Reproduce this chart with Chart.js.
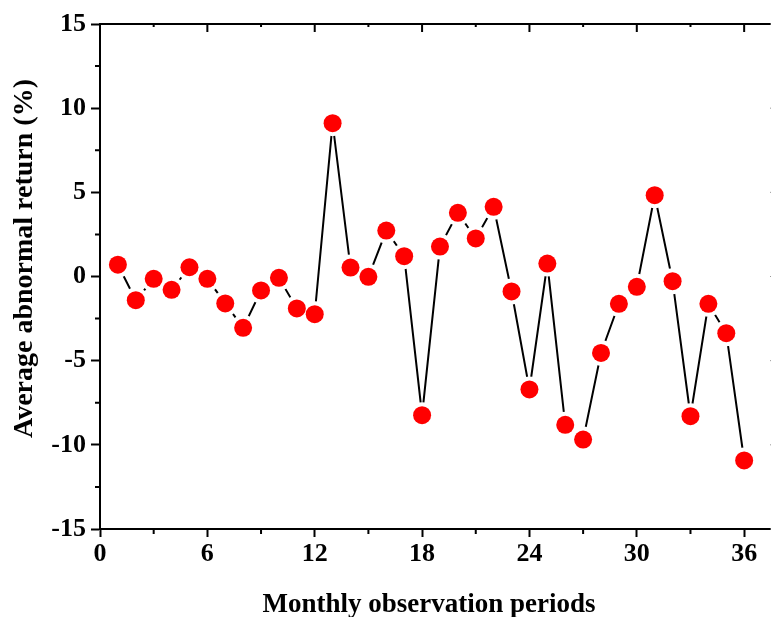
<!DOCTYPE html>
<html>
<head>
<meta charset="utf-8">
<script src="https://cdn.jsdelivr.net/npm/chart.js@4/dist/chart.umd.min.js"></script>
<style>
  html, body { margin: 0; padding: 0; background: #fff; }
  canvas { display: block; }
</style>
</head>
<body>
<canvas id="myChart" width="771" height="617"></canvas>
<script>
// dane
const months = [1, 2, 3, 4, 5, 6, 7, 8, 9, 10, 11, 12, 13, 14, 15, 16, 17, 18,
                19, 20, 21, 22, 23, 24, 25, 26, 27, 28, 29, 30, 31, 32, 33, 34, 35, 36];
const returns = [0.70, -1.41, -0.14, -0.79, 0.55, -0.14, -1.60, -3.05, -0.83, -0.08, -1.90, -2.24,
                 9.11, 0.53, -0.02, 2.73, 1.21, -8.24, 1.78, 3.78, 2.26, 4.14, -0.89, -6.71,
                 0.77, -8.81, -9.69, -4.54, -1.62, -0.61, 4.83, -0.28, -8.30, -1.62, -3.37, -10.93];
const xTicks = [0, 6, 12, 18, 24, 30, 36];
const yTicks = [-15, -10, -5, 0, 5, 10, 15];
const xMinor = [3, 9, 15, 21, 27, 33];
const yMinor = [-12.5, -7.5, -2.5, 2.5, 7.5, 12.5];
const xTitle = 'Monthly observation periods';
const yTitle = 'Average abnormal return (%)';

const FONT = '"Liberation Serif", "Times New Roman", serif';

const points = months.map((m, i) => ({ x: m, y: returns[i] }));

// ramka, male kreski i tytuly osi
const framePlugin = {
    id: 'frame',
    afterDraw(chart) {
        const ctx = chart.ctx;
        const a = chart.chartArea;
        const xs = chart.scales.x, ys = chart.scales.y;
        ctx.save();
        ctx.strokeStyle = '#000';
        ctx.lineWidth = 2;
        ctx.beginPath();
        // gorna os
        ctx.moveTo(a.left - 1, a.top);
        ctx.lineTo(a.right + 10, a.top);
        // prawa os (poza ekranem)
        ctx.moveTo(a.right + 9, a.top);
        ctx.lineTo(a.right + 9, a.bottom);
        // kreski na gorze (do srodka)
        xTicks.forEach(v => { const p = xs.getPixelForValue(v); ctx.moveTo(p, a.top); ctx.lineTo(p, a.top + 8); });
        xMinor.forEach(v => { const p = xs.getPixelForValue(v); ctx.moveTo(p, a.top); ctx.lineTo(p, a.top + 3); });
        // male kreski na dole i po lewej (na zewnatrz)
        xMinor.forEach(v => { const p = xs.getPixelForValue(v); ctx.moveTo(p, a.bottom); ctx.lineTo(p, a.bottom + 5); });
        yMinor.forEach(v => { const p = ys.getPixelForValue(v); ctx.moveTo(a.left, p); ctx.lineTo(a.left - 5, p); });
        ctx.stroke();
        // kreski na prawej - widac tylko koncowke
        ctx.strokeStyle = '#999';
        ctx.lineWidth = 1;
        ctx.beginPath();
        yTicks.forEach(v => { const p = ys.getPixelForValue(v); ctx.moveTo(a.right + 9, p); ctx.lineTo(a.right - 1, p); });
        ctx.stroke();

        // tytuly osi
        ctx.fillStyle = '#000';
        ctx.font = 'bold 27px ' + FONT;
        ctx.textAlign = 'center';
        ctx.textBaseline = 'alphabetic';
        ctx.fillText(xTitle, 429, 612);
        ctx.font = 'bold 28px ' + FONT;
        ctx.translate(32, 258.5);
        ctx.rotate(-Math.PI / 2);
        ctx.fillText(yTitle, 0, 0);
        ctx.restore();
    }
};

const ctx = document.getElementById('myChart').getContext('2d');
const myChart = new Chart(ctx, {
    type: 'line',
    data: {
        datasets: [{
            // czerwone kropki na wierzchu
            data: points,
            showLine: false,
            pointRadius: 9,
            pointHoverRadius: 9,
            pointBackgroundColor: '#ff0000',
            pointBorderWidth: 0,
            order: 0
        }, {
            // linia z bialymi przerwami przy kropkach
            data: points,
            borderColor: '#000',
            borderWidth: 2,
            tension: 0,
            pointRadius: 13,
            pointHoverRadius: 13,
            pointBackgroundColor: '#fff',
            pointBorderWidth: 0,
            order: 1
        }]
    },
    options: {
        responsive: false,
        animation: false,
        devicePixelRatio: 1,
        layout: { autoPadding: false, padding: { top: 24, right: 0, left: 0, bottom: 0 } },
        plugins: { legend: { display: false }, tooltip: { enabled: false } },
        scales: {
            x: {
                type: 'linear',
                min: 0,
                max: 37.5,
                afterBuildTicks: s => { s.ticks = xTicks.map(v => ({ value: v })); },
                afterFit: s => { s.height = 88; s.paddingRight = 0; s.paddingLeft = 0; },
                ticks: {
                    color: '#000',
                    padding: 2,
                    maxRotation: 0,
                    font: { family: FONT, size: 26, weight: 'bold' }
                },
                grid: { drawOnChartArea: false, tickLength: 8, tickWidth: 2, tickColor: '#000' },
                border: { display: true, color: '#000', width: 2 }
            },
            y: {
                min: -15,
                max: 15,
                afterBuildTicks: s => { s.ticks = yTicks.map(v => ({ value: v })); },
                afterFit: s => { s.width = 100; s.paddingTop = 0; s.paddingBottom = 0; },
                ticks: {
                    color: '#000',
                    padding: 5,
                    font: { family: FONT, size: 26, weight: 'bold' }
                },
                grid: { drawOnChartArea: false, tickLength: 9, tickWidth: 2, tickColor: '#000' },
                border: { display: true, color: '#000', width: 2 }
            }
        }
    },
    plugins: [framePlugin]
});
</script>
</body>
</html>
